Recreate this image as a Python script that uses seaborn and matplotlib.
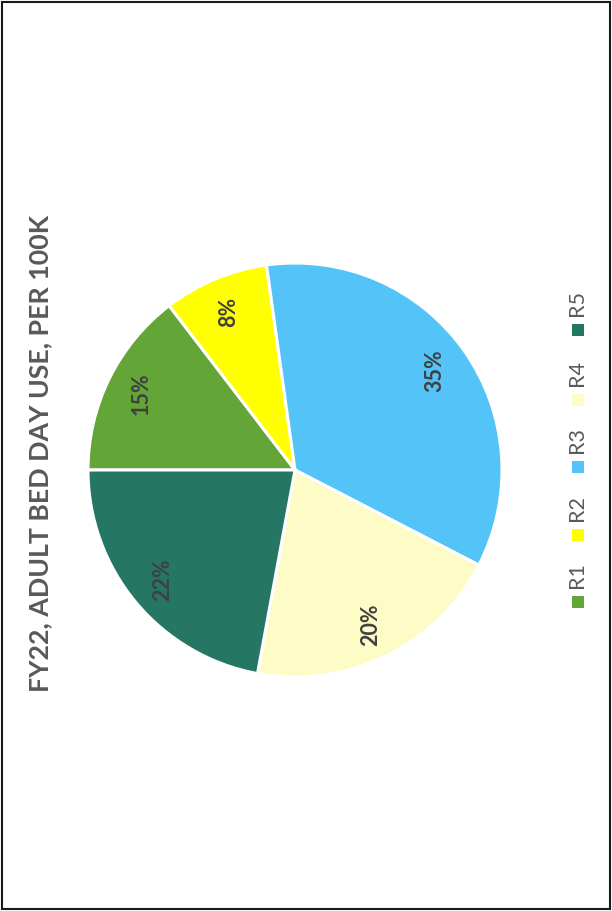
import numpy as np
import matplotlib
matplotlib.use("Agg")
import matplotlib.pyplot as plt
import seaborn as sns
from matplotlib.patches import Rectangle

# data
regions = ["R1", "R2", "R3", "R4", "R5"]
shares = [14.6, 8.2, 34.8, 20.3, 22.1]
colors = ["#63A537", "#FFFF00", "#53C3F8", "#FDFBC6", "#267664"]
title = "FY22, ADULT BED DAY USE, PER 100K"

sns.set_theme(style="white")
plt.rcParams["font.family"] = ["Lato", "DejaVu Sans"]

fig = plt.figure(figsize=(6.12, 9.11), dpi=100)
W, H = 612, 911

# pie axes, centre ~ (295, 470) px, radius ~207 px
cx, cy, r = 295, 470, 207
ax = fig.add_axes([(cx - r) / W, (H - cy - r) / H, 2 * r / W, 2 * r / H])
wedges, texts, autotexts = ax.pie(
    shares, colors=colors, startangle=180, counterclock=False,
    autopct="%1.0f%%", pctdistance=0.83,
    wedgeprops=dict(edgecolor="white", linewidth=2.2),
    textprops=dict(color="#404040", fontsize=15.5, fontweight="bold"))
for t in autotexts:
    t.set_rotation(90)
ax.set_xlim(-1, 1)
ax.set_ylim(-1, 1)
ax.set_aspect("equal")
ax.axis("off")

# title, rotated
fig.text(40 / W, 1 - 453 / H, title, rotation=90, ha="center", va="center",
         fontsize=19.3, fontweight="bold", color="#595959")

# legend, drawn by hand so it can be rotated
lax = fig.add_axes([560 / W, 0, 40 / W, 1])
leg_y = [602, 535, 467, 400, 330]
sns.scatterplot(x=[0.45] * len(regions), y=leg_y, hue=regions, palette=colors,
                marker="s", s=65, linewidth=0, legend=False, ax=lax)
lax.set_xlim(0, 1)
lax.set_ylim(H, 0)
lax.axis("off")
for name, y in zip(regions, leg_y):
    lax.text(0.42, y - 14, name, rotation=90, ha="center", va="bottom",
             fontsize=15.5, color="#595959")

# outer border
fig.patches.append(Rectangle((2 / W, 2 / H), 1 - 4 / W, 1 - 4 / H,
                             transform=fig.transFigure, fill=False,
                             edgecolor="#1a1a1a", linewidth=1.5))

fig.savefig("out.png", dpi=100)
